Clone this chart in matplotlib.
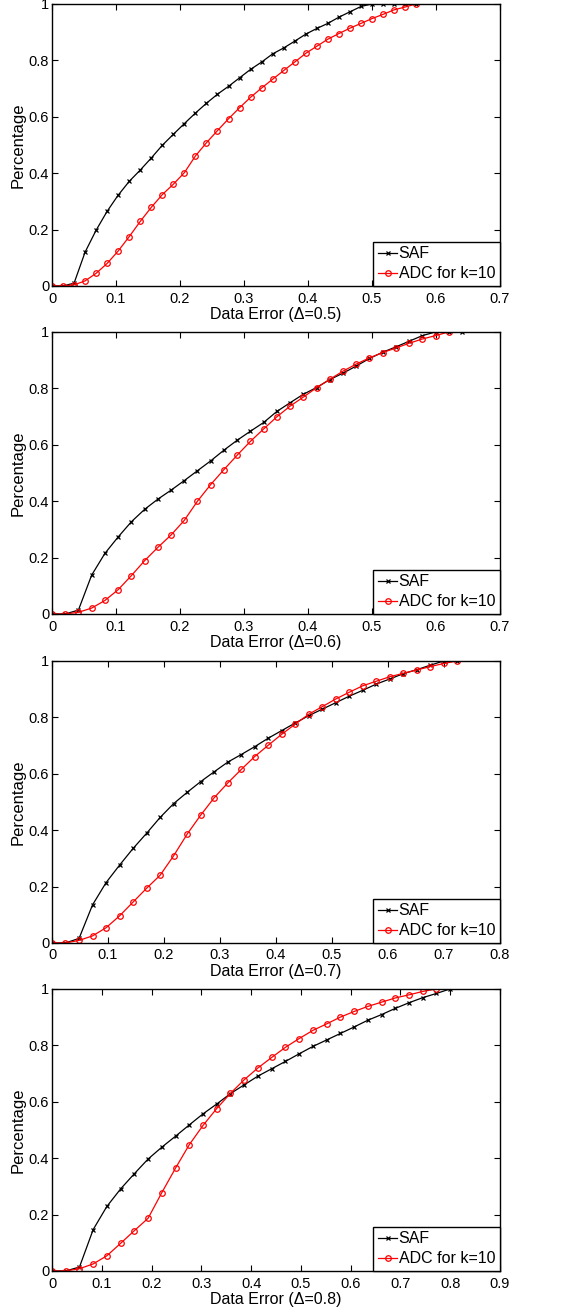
import matplotlib
matplotlib.use("Agg")
import matplotlib.pyplot as plt

plt.rcParams["font.family"] = ["Liberation Sans", "DejaVu Sans"]

# x positions (data error) and CDF values
x_05 = [0.0, 0.0172, 0.0345, 0.0517, 0.069, 0.0862, 0.1034, 0.1207, 0.1379, 0.1552,
        0.1724, 0.1897, 0.2069, 0.2241, 0.2414, 0.2586, 0.2759, 0.2931, 0.3103, 0.3276,
        0.3448, 0.3621, 0.3793, 0.3966, 0.4138, 0.431, 0.4483, 0.4655, 0.4828, 0.5,
        0.5172, 0.5345, 0.5517, 0.569]
saf_05 = [0, 0, 0.01, 0.12, 0.198, 0.265, 0.322, 0.371, 0.411, 0.454,
          0.499, 0.538, 0.576, 0.613, 0.648, 0.680, 0.708, 0.738, 0.768, 0.794,
          0.823, 0.844, 0.868, 0.893, 0.913, 0.931, 0.953, 0.972, 0.991, 1.0,
          1.0, 1.0, 1.0, 1.0]
adc_05 = [0, 0, 0.004, 0.018, 0.045, 0.080, 0.124, 0.175, 0.229, 0.279,
          0.324, 0.361, 0.402, 0.461, 0.508, 0.551, 0.593, 0.632, 0.669, 0.702,
          0.733, 0.764, 0.794, 0.825, 0.850, 0.875, 0.895, 0.914, 0.931, 0.948,
          0.963, 0.979, 0.989, 1.0]

x_06 = [0.0, 0.0207, 0.0413, 0.062, 0.0827, 0.1033, 0.124, 0.1447, 0.1653, 0.186,
        0.2067, 0.2273, 0.248, 0.2687, 0.2893, 0.31, 0.3307, 0.3513, 0.372, 0.3927,
        0.4133, 0.434, 0.4547, 0.4753, 0.496, 0.5167, 0.5373, 0.558, 0.5787, 0.5993,
        0.62, 0.6407]
saf_06 = [0, 0, 0.014, 0.138, 0.215, 0.273, 0.327, 0.371, 0.407, 0.439,
          0.473, 0.508, 0.543, 0.581, 0.616, 0.648, 0.679, 0.718, 0.749, 0.779,
          0.803, 0.831, 0.854, 0.879, 0.906, 0.928, 0.947, 0.967, 0.987, 1.0,
          1.0, 1.0]
adc_06 = [0, 0, 0.006, 0.021, 0.048, 0.086, 0.136, 0.189, 0.236, 0.280,
          0.332, 0.400, 0.459, 0.512, 0.563, 0.612, 0.656, 0.699, 0.737, 0.769,
          0.802, 0.832, 0.861, 0.886, 0.908, 0.927, 0.943, 0.960, 0.975, 0.987,
          1.0]

x_07 = [0.0, 0.0241, 0.0483, 0.0724, 0.0966, 0.1207, 0.1448, 0.169, 0.1931, 0.2172,
        0.2414, 0.2655, 0.2897, 0.3138, 0.3379, 0.3621, 0.3862, 0.4103, 0.4345, 0.4586,
        0.4828, 0.5069, 0.531, 0.5552, 0.5793, 0.6034, 0.6276, 0.6517, 0.6759, 0.7,
        0.7241]
saf_07 = [0, 0, 0.016, 0.135, 0.214, 0.276, 0.335, 0.389, 0.445, 0.494,
          0.534, 0.572, 0.607, 0.641, 0.668, 0.696, 0.726, 0.753, 0.780, 0.806,
          0.829, 0.852, 0.875, 0.896, 0.918, 0.936, 0.955, 0.969, 0.985, 1.0,
          1.0]
adc_07 = [0, 0, 0.009, 0.025, 0.054, 0.096, 0.145, 0.194, 0.240, 0.309,
          0.386, 0.453, 0.515, 0.567, 0.615, 0.661, 0.701, 0.740, 0.776, 0.811,
          0.838, 0.865, 0.889, 0.912, 0.928, 0.944, 0.956, 0.968, 0.980, 0.991,
          1.0]

x_08 = [0.0, 0.0276, 0.0552, 0.0828, 0.1103, 0.1379, 0.1655, 0.1931, 0.2207, 0.2483,
        0.2759, 0.3034, 0.331, 0.3586, 0.3862, 0.4138, 0.4414, 0.469, 0.4966, 0.5241,
        0.5517, 0.5793, 0.6069, 0.6345, 0.6621, 0.6897, 0.7172, 0.7448, 0.7724, 0.8]
saf_08 = [0, 0, 0.014, 0.147, 0.229, 0.291, 0.345, 0.397, 0.439, 0.478,
          0.518, 0.557, 0.592, 0.629, 0.660, 0.691, 0.717, 0.743, 0.770, 0.796,
          0.819, 0.842, 0.865, 0.889, 0.909, 0.931, 0.951, 0.969, 0.984, 1.0]
adc_08 = [0, 0, 0.008, 0.025, 0.054, 0.098, 0.143, 0.187, 0.278, 0.365,
          0.448, 0.516, 0.576, 0.630, 0.678, 0.720, 0.757, 0.793, 0.824, 0.853,
          0.876, 0.900, 0.920, 0.938, 0.953, 0.968, 0.979, 0.991, 1.0]

panels = [
    (x_05, saf_05, adc_05, 0.7, 0.5),
    (x_06, saf_06, adc_06, 0.7, 0.6),
    (x_07, saf_07, adc_07, 0.8, 0.7),
    (x_08, saf_08, adc_08, 0.9, 0.8),
]
bottoms = [0.7817, 0.5313, 0.2802, 0.0298]

fig = plt.figure(figsize=(5.64, 13.10), dpi=100)

for (x, saf, adc, xmax, delta), b in zip(panels, bottoms):
    ax = fig.add_axes([0.0922, b, 0.7943, 0.2153])
    ax.plot(x[:len(saf)], saf, color="black", marker="x", markersize=3,
            markeredgewidth=0.9, linewidth=0.9, label="SAF")
    ax.plot(x[:len(adc)], adc, color="red", marker="o", markersize=4,
            markerfacecolor="none", markeredgewidth=0.9, linewidth=0.9,
            label="ADC for k=10")
    ax.set_xlim(0, xmax)
    ax.set_ylim(0, 1)
    xt = [i / 10 for i in range(int(round(xmax * 10)) + 1)]
    ax.set_xticks(xt)
    ax.set_xticklabels(["0"] + ["%.1f" % v for v in xt[1:]])
    yt = [0, 0.2, 0.4, 0.6, 0.8, 1]
    ax.set_yticks(yt)
    ax.set_yticklabels(["0", "0.2", "0.4", "0.6", "0.8", "1"])
    ax.tick_params(direction="in", top=True, right=True, length=4,
                   labelsize=10.5)
    ax.tick_params(axis="x", pad=4)
    ax.tick_params(axis="y", pad=2)
    for s in ax.spines.values():
        s.set_linewidth(1.0)
    ax.set_xlabel("Data Error (\u0394=%.1f)" % delta, fontsize=11.5, labelpad=1)
    ax.set_ylabel("Percentage", fontsize=12, labelpad=2)
    leg = ax.legend(loc="lower right", fontsize=11.5, frameon=True, fancybox=False,
                    borderaxespad=0, handlelength=1.2, handletextpad=0.1,
                    borderpad=0.3, labelspacing=0.3, edgecolor="black",
                    framealpha=1)
    leg.get_frame().set_linewidth(1.0)

fig.savefig("out.png", dpi=100)
